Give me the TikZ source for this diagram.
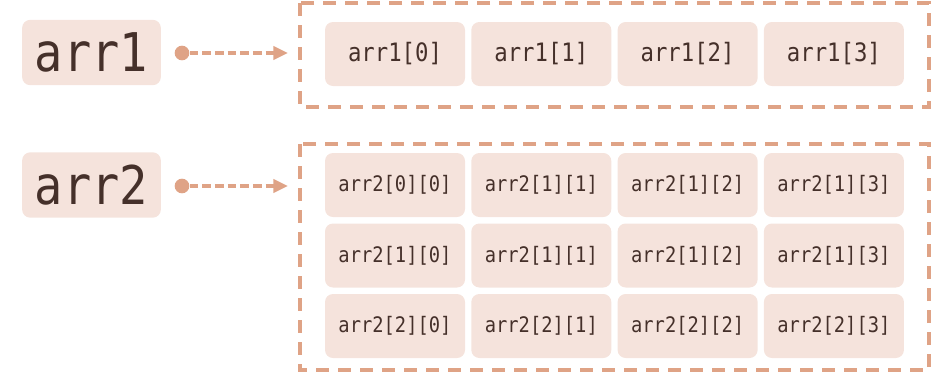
\documentclass[tikz,border=0pt]{standalone}
\usepackage{fontspec}
\setmonofont[FakeStretch=0.88]{DejaVu Sans Mono}
\usepackage{xcolor}
\usetikzlibrary{positioning,arrows.meta}
\definecolor{cellfill}{HTML}{F5E3DC}
\definecolor{framecol}{HTML}{DFA386}
\definecolor{inkcol}{HTML}{45302A}

\begin{document}
\begin{tikzpicture}[
  x=0.75pt,y=-0.75pt,
  cell/.style={fill=cellfill,rounded corners=6pt,minimum width=105pt,minimum height=48pt,inner sep=0pt,text=inkcol,font=\ttfamily\fontsize{19}{22}\selectfont},
  small/.style={cell,font=\ttfamily\fontsize{16}{19}\selectfont},
  var/.style={cell,minimum width=104pt,minimum height=49pt,font=\ttfamily\fontsize{40}{44}\selectfont},
  frame/.style={draw=framecol,line width=2.3pt,dash pattern=on 10pt off 6.5pt},
  link/.style={draw=framecol,line width=2.4pt,dash pattern=on 6.5pt off 3pt,-{Triangle[length=11pt,width=10pt]}},
  dot/.style={circle,fill=framecol,inner sep=0pt,minimum size=11pt}
]
\useasboundingbox (0,0) rectangle (931,372);
% --- variables ---
\node[var] (arr1) at (91.5,52.5) {arr1};
\node[var] (arr2) at (91.5,185) {arr2};
\node[dot] (d1) at (182,53) {};
\node[dot] (d2) at (182,186) {};
\coordinate (e1) at (288,53);
\coordinate (e2) at (288,186);
\draw[link] (d1) -- (e1);
\draw[link] (d2) -- (e2);
% --- frames ---
\draw[frame] (300,3) rectangle (929,107);
\draw[frame] (300,144) rectangle (929,370);
% --- arr1 cells ---
\foreach \i in {0,...,3}{
  \node[cell] (a\i) at (395+146.3*\i,54) {arr1[\i]};
}
% --- arr2 cells ---
\foreach \r/\y/\p in {0/185/{0/0,1/1,1/2,1/3},1/255.5/{1/0,1/1,1/2,1/3},2/326/{2/0,2/1,2/2,2/3}}{
  \foreach \m/\n [count=\c from 0] in \p{
    \node[small] (b\r\c) at (395+146.3*\c,\y) {arr2[\m][\n]};
  }
}
\end{tikzpicture}
\end{document}
